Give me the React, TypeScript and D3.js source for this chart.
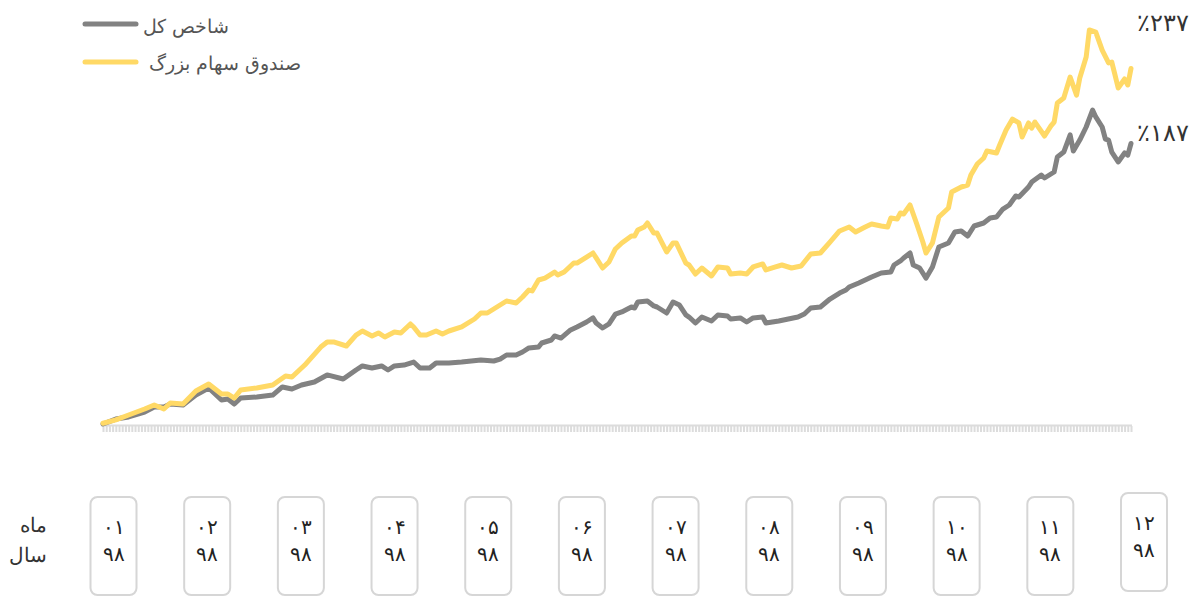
import React from "react";
import * as d3 from "d3";

const TOTAL_DAYS = 322;

const indexDays = [0,4,8,13,16,19,21,25,29,33,37,39,41,43,48,53,56,59,62,66,70,75,79,81,84,87,89,91,94,97,99,102,104,108,112,118,122,124,126,129,131,133,136,137,140,141,143,146,148,151,153,154,156,158,160,162,165,166,167,170,172,173,176,178,180,182,183,185,187,190,192,195,196,199,201,203,206,207,211,214,217,219,221,224,227,230,232,233,236,240,243,246,247,249,250,252,253,255,257,259,261,264,266,268,270,272,275,277,279,281,283,285,286,289,290,293,294,297,298,300,302,303,305,307,309,310,312,313,314,315,317,319,320,321];
const indexValues = [0,3.3,4.7,8,11.3,11.3,13.3,12.7,19.3,24,16,16.7,13.3,17.3,18,19.3,24.7,23.3,26,28,32.7,30,36,38.7,37.3,38.7,36,38.7,39.3,41.3,37.3,37.3,40.7,40.7,41.3,42.7,42,43.3,46,46,48,50.7,51.3,54,56,58.7,57.3,62.7,64.7,68,70.7,67.3,64,66.7,73.3,74.7,78,77.3,81.3,82,78.7,78,74,81.3,79.3,72.7,71.3,67.3,71.3,68.7,72.7,72,70,70.7,68,70.7,71.3,67.3,68.7,70,71.3,73.3,77.3,78,83.3,87.3,89.3,91.3,94,98,100.7,101.3,106,108.7,110.7,114,106,104,97.3,104.7,118,120.7,128,128.7,125.3,132,134,137.3,138,143.3,146,152,151.3,158,161.3,166,164,168,178,181.3,192.7,182,189.3,198,209.3,204.7,198,190,189.3,181.3,174.7,180.7,179.3,187];

const fundDays = [0,4,8,13,16,19,21,25,29,33,37,39,41,43,48,53,57,59,63,68,70,72,76,79,81,84,86,88,91,93,96,97,99,101,104,106,108,112,116,118,120,123,126,129,131,133,134,136,138,141,142,144,147,148,151,153,154,156,158,160,162,165,166,167,169,170,172,173,176,178,179,182,183,185,187,190,192,195,196,199,201,203,206,207,210,212,215,218,221,224,227,230,233,235,238,240,243,245,246,248,249,250,252,254,256,257,259,261,264,265,268,270,271,273,275,276,279,280,282,284,286,287,289,290,291,294,296,297,298,300,302,304,305,307,308,310,312,314,315,316,317,319,320,321];
const fundValues = [0.5,2.7,6,10,12.7,10,14,13.3,22,26.7,20,20,17.3,22.7,24,26,32,31.3,39.3,51.3,54.7,54.7,52,59.3,62,58.7,60.7,58,61.3,60.7,66.7,64.7,59.3,59.3,62,60,62,64.7,70,74,74,78,82,80.7,84.7,89.3,88.7,96,97.3,101.3,99.3,101.3,107.3,107.3,111.3,114,110.7,104,108,116.7,120.7,125.3,125.3,129.3,131.3,134,127.3,127.3,114.7,120.7,120.7,107.3,106,100,104,98.7,104.7,104,100,100.7,100,104.7,106.7,102.7,104.7,106,104,105.3,113.3,114,121.3,128.7,131.3,128,131.3,133.3,132,131.3,137.3,136.7,140.7,140,146,134,121.3,114,120.7,138,144,154.7,158,159.3,166,173.3,177.3,182,180.7,186,196,203.3,200.7,191.3,200.7,197.3,201.3,192,198.7,201.3,214,217.3,231.3,219.3,230.7,244.7,262.7,261.3,249.3,240.7,241.3,232.7,224,230,226,237];

const months = ["۰۱","۰۲","۰۳","۰۴","۰۵","۰۶","۰۷","۰۸","۰۹","۱۰","۱۱","۱۲"];
const years = ["۹۸","۹۸","۹۸","۹۸","۹۸","۹۸","۹۸","۹۸","۹۸","۹۸","۹۸","۹۸"];
const seriesNames = ["شاخص کل", "صندوق سهام بزرگ"];
const endLabels = ["٪۱۸۷", "٪۲۳۷"];
const rowLabels = ["ماه", "سال"];

const GRAY = "#828282";
const YELLOW = "#FFD966";
const FONT = "'DejaVu Sans', sans-serif";

export default function App() {
  const x = d3.scaleLinear().domain([0, TOTAL_DAYS - 1]).range([103, 1131]);
  const y = d3.scaleLinear().domain([0, 264]).range([424, 28]);
  const line = d3.line<[number, number]>().x(d => x(d[0])).y(d => y(d[1]));
  const indexPts = indexDays.map((d, i) => [d, indexValues[i]] as [number, number]);
  const fundPts = fundDays.map((d, i) => [d, fundValues[i]] as [number, number]);
  const mx = d3.scalePoint<string>().domain(months.map((m, i) => String(i))).range([113.5, 1144]);
  const ticks = d3.range(TOTAL_DAYS);

  return (
    <svg width={1204} height={596} style={{ position: "absolute", left: 0, top: 0, fontFamily: FONT, fontWeight: 200 }}>
      <rect width={1204} height={596} fill="#fff" />
      {/* axis baseline and ticks */}
      <line x1={x(0)} x2={x(TOTAL_DAYS - 1) + 1} y1={425.5} y2={425.5} stroke="#dcdcdc" strokeWidth={2} />
      {ticks.map(t => (
        <rect key={t} x={x(t) - 0.5} y={426} width={2} height={6} fill="#dcdcdc" />
      ))}
      {/* lines */}
      <path d={line(indexPts) || ""} fill="none" stroke={GRAY} strokeWidth={5} strokeLinejoin="round" strokeLinecap="round" />
      <path d={line(fundPts) || ""} fill="none" stroke={YELLOW} strokeWidth={5} strokeLinejoin="round" strokeLinecap="round" />
      {/* end labels */}
      <text x={1137} y={31} fontSize={24} fill="#333">{endLabels[1]}</text>
      <text x={1137} y={141} fontSize={24} fill="#333">{endLabels[0]}</text>
      {/* legend */}
      <line x1={85} x2={136} y1={24} y2={24} stroke={GRAY} strokeWidth={5} strokeLinecap="round" />
      <text x={143} y={33} fontSize={19} fill="#555">{seriesNames[0]}</text>
      <line x1={85} x2={136} y1={62} y2={62} stroke={YELLOW} strokeWidth={5} strokeLinecap="round" />
      <text x={149} y={70} fontSize={19} fill="#555">{seriesNames[1]}</text>
      {/* row labels */}
      <text x={47} y={532} fontSize={20} fill="#333" textAnchor="end">{rowLabels[0]}</text>
      <text x={47} y={562} fontSize={20} fill="#333" textAnchor="end">{rowLabels[1]}</text>
      {/* month boxes */}
      {months.map((m, i) => {
        const cx = mx(String(i)) as number;
        const dy = i === months.length - 1 ? -4 : 0;
        return (
          <g key={i} transform={`translate(${cx},${dy})`}>
            <rect x={-23} y={497} width={46} height={98} rx={7} fill="#fff" stroke="#d6d6d6" strokeWidth={2} />
            <text x={0} y={534} fontSize={20} textAnchor="middle" fill="#222">{m}</text>
            <text x={0} y={561} fontSize={20} textAnchor="middle" fill="#222">{years[i]}</text>
          </g>
        );
      })}
    </svg>
  );
}
